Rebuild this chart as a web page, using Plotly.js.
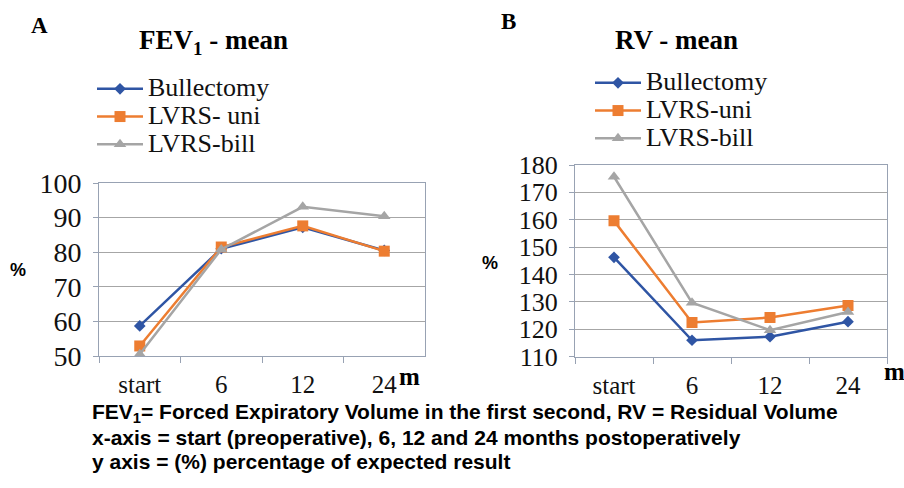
<!DOCTYPE html>
<html>
<head>
<meta charset="utf-8">
<script src="https://cdn.plot.ly/plotly-3.0.1.min.js"></script>
<style>html,body{margin:0;padding:0;background:#fff}#chart{width:904px;height:488px}</style>
</head>
<body>
<div id="chart"></div>
<script>
const categories = ["start", "6", "12", "24"];
const seriesNames = ["Bullectomy", "LVRS- uni", "LVRS-bill"];
const seriesNamesB = ["Bullectomy", "LVRS-uni", "LVRS-bill"];
const fevBullectomy = [58.7, 81.0, 87.2, 80.5];
const fevLvrsUni = [52.9, 81.5, 87.6, 80.3];
const fevLvrsBill = [50.5, 80.8, 93.1, 90.4];
const rvBullectomy = [146.3, 116.0, 117.3, 122.8];
const rvLvrsUni = [159.6, 122.5, 124.3, 128.7];
const rvLvrsBill = [175.7, 129.7, 119.7, 126.3];
const yTicksA = [50, 60, 70, 80, 90, 100];
const yTicksB = [110, 120, 130, 140, 150, 160, 170, 180];

const colors = ["#2f55a4", "#ed7d31", "#a5a5a5"];
const symbols = ["diamond", "square", "triangle-up"];
const msizes = [9, 11, 11];
const serif = "Liberation Serif";

function mk(y, i, name, xa, ya, leg) {
  return {
    x: categories, y: y, name: '<span style="font-size:26px">' + name + '</span>',
    type: "scatter", mode: "lines+markers",
    xaxis: xa, yaxis: ya, legend: leg,
    line: {color: colors[i], width: 2.5},
    marker: {symbol: symbols[i], size: msizes[i], color: colors[i]}
  };
}
const data = [
  mk(fevBullectomy, 0, seriesNames[0], "x", "y", "legend"),
  mk(fevLvrsUni, 1, seriesNames[1], "x", "y", "legend"),
  mk(fevLvrsBill, 2, seriesNames[2], "x", "y", "legend"),
  mk(rvBullectomy, 0, seriesNamesB[0], "x2", "y2", "legend2"),
  mk(rvLvrsUni, 1, seriesNamesB[1], "x2", "y2", "legend2"),
  mk(rvLvrsBill, 2, seriesNamesB[2], "x2", "y2", "legend2")
];

const axCol = "#98a2b3";
const gridCol = "#a6a6a6";
function xax(dom) {
  return {domain: dom, type: "category", range: [-0.5, 3.5], tickson: "boundaries",
    ticks: "outside", ticklen: 6,
    tickcolor: axCol, showline: true, linecolor: axCol, mirror: true, linewidth: 1,
    showgrid: false, zeroline: false, fixedrange: true, ticklabelstandoff: 6,
    tickfont: {family: serif, size: 25, color: "#111"}};
}
function yax(dom, range, tv, anchor, fs) {
  return {domain: dom, range: range, tickvals: tv, ticks: "outside", ticklen: 5,
    tickcolor: axCol, showline: true, linecolor: axCol, mirror: true, linewidth: 1,
    gridcolor: gridCol, gridwidth: 1, zeroline: false, anchor: anchor, ticklabelstandoff: 6,
    tickfont: {family: serif, size: fs, color: "#111"}};
}
const legFont = {family: serif, size: 19, color: "#111"};

const layout = {
  width: 904, height: 488,
  margin: {l: 0, r: 0, t: 0, b: 0},
  paper_bgcolor: "#fff", plot_bgcolor: "#fff",
  font: {family: serif},
  showlegend: true,
  xaxis: Object.assign(xax([99/904, 425/904]), {anchor: "y"}),
  yaxis: yax([(488-356)/488, (488-183)/488], [50, 100], yTicksA, "x", 28),
  xaxis2: Object.assign(xax([575/904, 887/904]), {anchor: "y2"}),
  yaxis2: yax([(488-356.7)/488, (488-165)/488], [110, 180], yTicksB, "x2", 26),
  legend: {x: 92/904, y: 1 - 70/488, xanchor: "left", yanchor: "top", font: legFont,
    bgcolor: "rgba(0,0,0,0)", itemclick: false, itemwidth: 46, tracegroupgap: 0},
  legend2: {x: 590/904, y: 1 - 64/488, xanchor: "left", yanchor: "top", font: legFont,
    bgcolor: "rgba(0,0,0,0)", itemclick: false, itemwidth: 46, tracegroupgap: 0},
  annotations: [
    {text: "<b>A</b>", x: 39, y: 25, showarrow: false, font: {family: serif, size: 23, color: "#000"}},
    {text: "<b>B</b>", x: 508, y: 22, showarrow: false, font: {family: serif, size: 23, color: "#000"}},
    {text: "<b>FEV<sub>1</sub> - mean</b>", x: 213, y: 42, showarrow: false, font: {family: serif, size: 27, color: "#000"}},
    {text: "<b>RV - mean</b>", x: 676, y: 40, showarrow: false, font: {family: serif, size: 27, color: "#000"}},
    {text: "<b>%</b>", x: 18, y: 270, showarrow: false, font: {family: "Liberation Sans", size: 18, color: "#000"}},
    {text: "<b>%</b>", x: 490, y: 263, showarrow: false, font: {family: "Liberation Sans", size: 18, color: "#000"}},
    {text: "<b>m</b>", x: 409, y: 376, showarrow: false, font: {family: serif, size: 25, color: "#000"}},
    {text: "<b>m</b>", x: 894, y: 371, showarrow: false, font: {family: serif, size: 25, color: "#000"}},
    {text: "FEV<sub>1</sub>= Forced Expiratory Volume in the first second, RV = Residual Volume", x: 90, y: 413, xanchor: "left", showarrow: false,
     font: {family: "Liberation Sans", size: 21, color: "#000", weight: "bold"}},
    {text: "x-axis = start (preoperative), 6, 12 and 24 months postoperatively", x: 90, y: 437, xanchor: "left", showarrow: false,
     font: {family: "Liberation Sans", size: 21, color: "#000", weight: "bold"}},
    {text: "y axis = (%) percentage of expected result", x: 90, y: 461, xanchor: "left", showarrow: false,
     font: {family: "Liberation Sans", size: 21, color: "#000", weight: "bold"}}
  ]
};
layout.annotations.forEach(a => {
  a.xref = "paper"; a.yref = "paper";
  a.x = a.x / 904; a.y = 1 - a.y / 488;
  if (!a.xanchor) a.xanchor = "center";
  a.yanchor = "middle";
});
Plotly.newPlot("chart", data, layout, {displayModeBar: false, staticPlot: true});
</script>
</body>
</html>
